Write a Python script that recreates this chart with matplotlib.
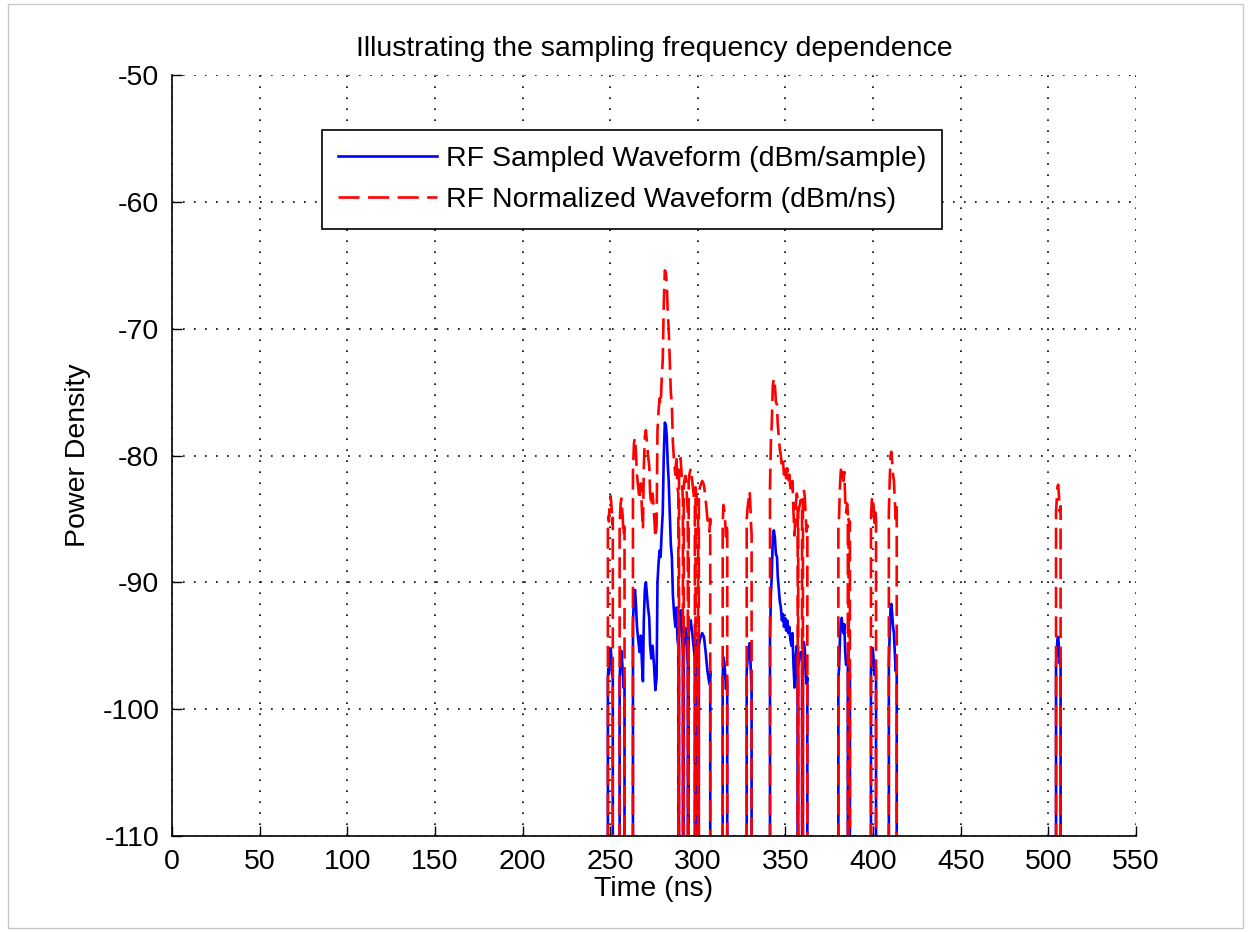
import numpy as np
import matplotlib
matplotlib.use("Agg")
from matplotlib import pyplot as plt
import matplotlib.patches as patches

plt.rcParams["font.family"] = ["Liberation Sans", "DejaVu Sans"]
plt.rcParams["axes.unicode_minus"] = False

# no-signal level (far below the axis floor, so the pulses fall off the bottom)
FLOOR = -250.0
# dBm/sample -> dBm/ns shift
NORM_OFFSET_DB = 12.0

# pulses of the sampled waveform: times (ns) and power (dBm/sample)
p248_t = [248.7, 249.0, 249.3, 249.6, 250.0, 250.3, 250.6, 251.0, 251.3, 251.5]
p248_v = [-97.5, -96.8, -97.2, -96.0, -95.6, -95.2, -95.8, -96.5, -97.4, -96.9]

p255_t = [255.4, 255.7, 256.0, 256.4, 256.8, 257.2, 257.6, 258.0, 258.2]
p255_v = [-97.8, -96.5, -95.8, -95.4, -96.2, -97.0, -98.3, -97.6, -98.0]

p263_t = [263.0, 263.6, 264.2, 264.8, 265.3, 266.0, 266.8, 267.5, 268.2, 268.7,
          269.2, 269.8, 270.4, 271.0, 271.6, 272.3, 272.8, 273.5, 274.2, 275.0,
          275.8, 276.5, 277.0, 277.6, 278.2, 278.8, 279.4, 280.0, 280.6, 281.2,
          281.8, 282.3, 282.8, 283.4, 284.0, 284.6, 285.2, 285.8, 286.5, 287.2,
          287.8, 288.4, 288.9, 289.1, 289.3, 289.5, 290.2, 290.9, 291.5, 291.8,
          292.0, 292.3, 293.0, 293.7, 294.3, 294.6, 294.8, 295.2, 296.0, 296.8,
          297.6, 298.3, 298.5, 298.7, 299.5, 300.2, 300.4, 300.6, 301.2, 302.5,
          303.5, 304.5, 305.5, 306.6, 307.1]
p263_v = [-93.3, -91.0, -90.6, -92.0, -93.5, -94.5, -95.5, -94.2, -96.5, -97.8,
          -93.0, -90.5, -90.0, -91.0, -92.0, -92.8, -95.0, -96.0, -95.0, -96.5,
          -98.5, -97.5, -90.0, -88.5, -87.5, -88.0, -86.0, -84.5, -80.0, -77.4,
          -77.6, -78.5, -80.5, -82.0, -84.5, -87.0, -88.0, -91.0, -92.5, -93.5,
          -92.0, -94.5, -95.0, FLOOR, -93.5, -93.0, -92.2, -93.8, -95.5, FLOOR,
          -94.5, -94.0, -93.6, -95.0, -96.5, FLOOR, -94.0, -93.5, -93.0, -94.0,
          -95.0, -96.0, FLOOR, -94.5, -95.5, -97.0, FLOOR, -95.0, -94.5, -94.0,
          -94.3, -95.5, -97.0, -98.0, -97.0]

p314_t = [314.2, 314.6, 315.1, 315.6, 316.1, 316.5, 316.8]
p314_v = [-97.5, -95.9, -96.3, -97.2, -98.4, -97.5, -98.0]

p328_t = [327.9, 328.5, 329.2, 329.6, 330.0, 330.4, 330.7]
p328_v = [-97.0, -96.0, -95.2, -94.8, -96.0, -97.5, -98.2]

p341_t = [341.2, 341.7, 342.2, 342.8, 343.4, 344.0, 344.6, 345.2, 345.6, 346.2,
          346.8, 347.4, 348.0, 348.6, 349.2, 349.8, 350.4, 351.0, 351.6, 352.2,
          352.8, 353.4, 354.0, 354.6, 355.2, 355.8, 356.5, 357.0, 357.1, 357.3,
          358.0, 358.8, 359.5, 359.7, 360.0, 360.5, 361.0, 361.5, 362.0, 362.5]
p341_v = [-94.5, -91.0, -89.5, -86.5, -85.9, -86.5, -87.8, -88.0, -89.5, -90.5,
          -91.5, -92.0, -93.0, -92.5, -93.5, -92.8, -93.8, -93.0, -94.0, -93.5,
          -94.5, -95.0, -94.0, -96.5, -98.3, -96.0, -95.0, -95.5, FLOOR, -96.5,
          -96.0, -95.5, -96.0, FLOOR, -95.5, -94.7, -95.2, -96.5, -98.0, -97.5]

p380_t = [380.2, 380.6, 381.1, 381.6, 382.1, 382.6, 383.1, 383.6, 384.1, 384.6,
          385.2, 385.6, 385.8, 386.0, 386.4, 386.8]
p380_v = [-97.5, -96.8, -94.5, -93.2, -92.8, -93.5, -94.0, -93.3, -95.5, -96.5,
          -95.8, -96.5, FLOOR, -97.0, -97.5, -97.2]

p399_t = [398.8, 399.3, 399.8, 400.3, 400.8, 401.3, 401.7]
p399_v = [-97.0, -95.5, -95.2, -96.0, -97.3, -96.5, -97.0]

p409_t = [409.0, 409.5, 410.0, 410.4, 410.9, 411.4, 411.9, 412.4, 412.9, 413.5]
p409_v = [-96.5, -94.0, -92.0, -91.7, -92.5, -93.5, -94.0, -95.5, -97.0, -96.0]

p504_t = [504.4, 504.8, 505.2, 505.6, 506.0, 506.5, 507.0]
p504_v = [-96.5, -95.5, -94.5, -94.3, -95.0, -96.4, -96.0]

pulses = [(p248_t, p248_v), (p255_t, p255_v), (p263_t, p263_v),
          (p314_t, p314_v), (p328_t, p328_v), (p341_t, p341_v),
          (p380_t, p380_v), (p399_t, p399_v), (p409_t, p409_v),
          (p504_t, p504_v)]

x_ticks = list(range(0, 551, 50))
y_ticks = list(range(-110, -49, 10))

FS = 20.5


def build_trace():
    # join the pulses, dropping to the floor level between them
    t_all = [0.0]
    v_all = [FLOOR]
    for t, v in pulses:
        t_all += [t[0]] + list(t) + [t[-1]]
        v_all += [FLOOR] + list(v) + [FLOOR]
    t_all.append(550.0)
    v_all.append(FLOOR)
    return np.array(t_all), np.array(v_all)


def main():
    t, sampled = build_trace()
    normalized = sampled + NORM_OFFSET_DB

    fig = plt.figure(figsize=(12.49, 9.32), dpi=100)
    fig.patches.append(patches.Rectangle(
        (8 / 1249, 4 / 932), 1235 / 1249, 924 / 932, transform=fig.transFigure,
        fill=False, edgecolor="#c8c8c8", linewidth=1.0))

    ax = fig.add_axes([0.1377, 0.1030, 0.7718, 0.8165])
    ax.plot(t, sampled, color="#0000ff", linewidth=1.9,
            label="RF Sampled Waveform (dBm/sample)")
    ax.plot(t, normalized, color="#ff0000", linewidth=1.9, dashes=(8.0, 3.2),
            label="RF Normalized Waveform (dBm/ns)")

    ax.set_xlim(0, 550)
    ax.set_ylim(-110, -50)
    ax.set_xticks(x_ticks)
    ax.set_yticks(y_ticks)
    ax.grid(True, color="k", linestyle=(0, (1, 5.6)), linewidth=1.2)
    ax.tick_params(direction="in", length=7, width=1, labelsize=FS,
                   top=False, right=False)
    ax.tick_params(axis="x", pad=9)
    ax.tick_params(axis="y", pad=9)
    for side in ["top", "right"]:
        ax.spines[side].set_visible(False)
    for side in ["left", "bottom"]:
        ax.spines[side].set_linewidth(1.2)

    ax.set_title("Illustrating the sampling frequency dependence",
                 fontsize=FS, pad=14)
    ax.set_xlabel("Time (ns)", fontsize=FS, labelpad=1)
    ax.set_ylabel("Power Density", fontsize=FS, labelpad=8)

    leg = ax.legend(loc="upper left", bbox_to_anchor=(0.1556, 0.9277),
                    borderaxespad=0, fontsize=FS, fancybox=False,
                    framealpha=1, edgecolor="k", handlelength=3.5,
                    handletextpad=0.3, borderpad=0.55, labelspacing=0.55)
    leg.get_frame().set_linewidth(1.2)

    fig.savefig("out.png", dpi=100, facecolor="white")


if __name__ == "__main__":
    main()
